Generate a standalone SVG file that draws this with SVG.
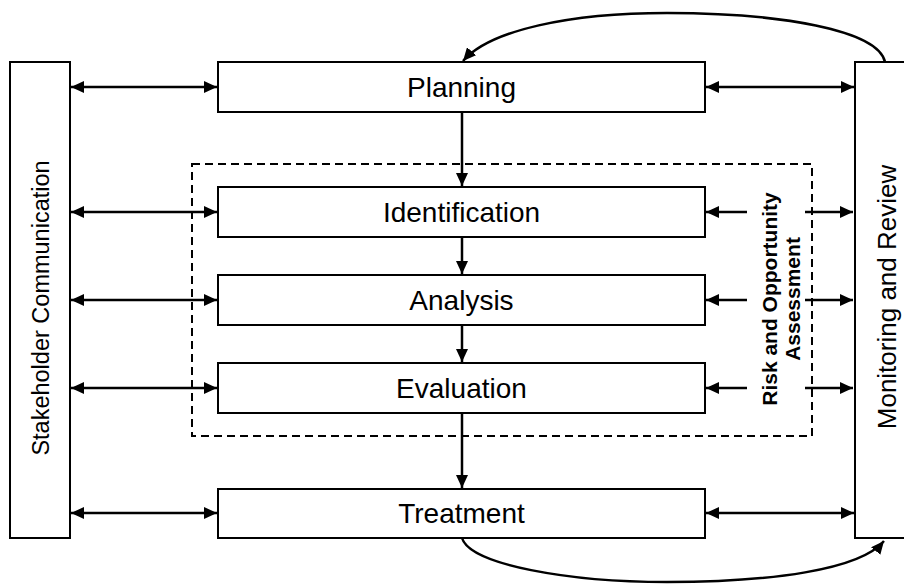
<svg xmlns="http://www.w3.org/2000/svg" width="904" height="584" viewBox="0 0 904 584">
<style>
.box{fill:#fff;stroke:#000;stroke-width:2}
.lbl{font-family:"Liberation Sans",Arial,sans-serif;font-size:28px;fill:#000;text-anchor:middle}
.vlbl{font-family:"Liberation Sans",Arial,sans-serif;font-size:26px;fill:#000;text-anchor:middle}
.blbl{font-family:"Liberation Sans",Arial,sans-serif;font-size:21px;font-weight:bold;fill:#000;text-anchor:middle}
.ln{fill:none;stroke:#000;stroke-width:2.5}
.dbl{marker-start:url(#ah);marker-end:url(#ah)}
.one{marker-end:url(#ah)}
</style>
<defs>
<marker id="ah" markerUnits="userSpaceOnUse" markerWidth="14" markerHeight="12" refX="13" refY="6" orient="auto-start-reverse">
<path d="M0,0 L13,6 L0,12 z" fill="#000"/>
</marker>
</defs>
<rect width="904" height="584" fill="#fff"/>
<g id="assessment-group">
<rect x="192" y="164" width="620" height="272" fill="none" stroke="#000" stroke-width="2" stroke-dasharray="8,5"/>
<text class="blbl" transform="translate(777,299) rotate(-90)">Risk and Opportunity</text>
<text class="blbl" transform="translate(800,299) rotate(-90)">Assessment</text>
</g>
<g id="stakeholder">
<rect class="box" x="10" y="62" width="60" height="476"/>
<text class="vlbl" style="font-size:23.5px" transform="translate(49,308) rotate(-90)">Stakeholder Communication</text>
</g>
<g id="monitoring">
<rect class="box" x="855" y="62" width="64" height="476"/>
<text class="vlbl" transform="translate(896,297) rotate(-90)">Monitoring and Review</text>
</g>
<g id="planning">
<rect class="box" x="218" y="62" width="487" height="50"/>
<text class="lbl" x="461.5" y="97">Planning</text>
</g>
<g id="identification">
<rect class="box" x="218" y="187" width="487" height="50"/>
<text class="lbl" x="461.5" y="222">Identification</text>
</g>
<g id="analysis">
<rect class="box" x="218" y="275" width="487" height="50"/>
<text class="lbl" x="461.5" y="310">Analysis</text>
</g>
<g id="evaluation">
<rect class="box" x="218" y="363" width="487" height="50"/>
<text class="lbl" x="461.5" y="398">Evaluation</text>
</g>
<g id="treatment">
<rect class="box" x="218" y="489" width="487" height="49"/>
<text class="lbl" x="461.5" y="523">Treatment</text>
</g>
<g id="connectors">
<line class="ln dbl" x1="71" y1="87" x2="217" y2="87"/>
<line class="ln dbl" x1="71" y1="212" x2="217" y2="212"/>
<line class="ln dbl" x1="71" y1="300" x2="217" y2="300"/>
<line class="ln dbl" x1="71" y1="388" x2="217" y2="388"/>
<line class="ln dbl" x1="71" y1="513" x2="217" y2="513"/>
<line class="ln dbl" x1="706" y1="87" x2="854" y2="87"/>
<line class="ln dbl" x1="706" y1="513" x2="854" y2="513"/>
<line class="ln one" x1="747" y1="212" x2="706" y2="212"/>
<line class="ln one" x1="747" y1="300" x2="706" y2="300"/>
<line class="ln one" x1="747" y1="388" x2="706" y2="388"/>
<line class="ln one" x1="805" y1="212" x2="853" y2="212"/>
<line class="ln one" x1="805" y1="300" x2="853" y2="300"/>
<line class="ln one" x1="805" y1="388" x2="853" y2="388"/>
<line class="ln one" x1="462" y1="112" x2="462" y2="186"/>
<line class="ln one" x1="462" y1="237" x2="462" y2="274"/>
<line class="ln one" x1="462" y1="325" x2="462" y2="362"/>
<line class="ln one" x1="462" y1="413" x2="462" y2="488"/>
<path class="ln one" d="M885,62 C878,30 780,13 667,13 C570,13 490,30 463,61"/>
<path class="ln one" d="M462,538 C470,565 570,582 667,582 C770,582 860,570 884,541"/>
</g>
</svg>
